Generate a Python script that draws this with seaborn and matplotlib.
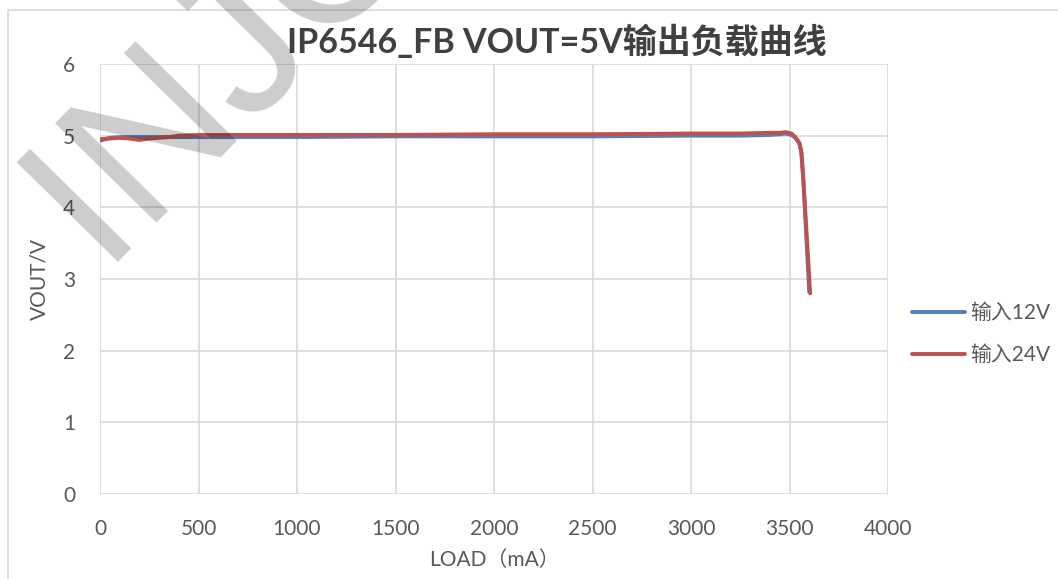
import matplotlib
matplotlib.use("Agg")
import matplotlib.pyplot as plt
import matplotlib.patches as mpatches
import seaborn as sns
import pandas as pd

# ---- data ----
load_12v = [0, 50, 100, 250, 500, 750, 1000, 1500, 2000, 2500, 3000, 3250, 3400, 3450, 3480, 3510, 3530, 3550, 3560, 3570, 3600]
vout_12v = [4.93, 4.97, 4.98, 4.98, 4.98, 4.98, 4.98, 4.99, 4.99, 4.99, 5.00, 5.00, 5.01, 5.02, 5.03, 5.01, 4.97, 4.89, 4.77, 4.40, 2.82]

load_24v = [0, 50, 100, 150, 200, 250, 300, 350, 400, 500, 750, 1000, 1500, 2000, 2500, 3000, 3250, 3400, 3450, 3480, 3510, 3530, 3550, 3560, 3570, 3605]
vout_24v = [4.95, 4.96, 4.97, 4.96, 4.94, 4.96, 4.97, 4.98, 5.00, 5.01, 5.01, 5.01, 5.01, 5.02, 5.02, 5.03, 5.03, 5.04, 5.04, 5.05, 5.03, 4.98, 4.90, 4.78, 4.40, 2.80]

series_names = ["输入12V", "输入24V"]
series_colors = ["#4F81BD", "#C0504D"]

x_ticks = [0, 500, 1000, 1500, 2000, 2500, 3000, 3500, 4000]
y_ticks = [0, 1, 2, 3, 4, 5, 6]

title_text = "IP6546_FB VOUT=5V输出负载曲线"
xlabel_text = "LOAD（mA）"
ylabel_text = "VOUT/V"
watermark_text = "INJOINIC"

df = pd.concat([
    pd.DataFrame({"LOAD": load_12v, "VOUT": vout_12v, "series": series_names[0]}),
    pd.DataFrame({"LOAD": load_24v, "VOUT": vout_24v, "series": series_names[1]}),
], ignore_index=True)

sns.set_theme(style="white")
plt.rcParams["font.family"] = ["Lato", "Noto Sans CJK SC", "DejaVu Sans"]

TXT = "#595959"
GRID = "#D9D9D9"

fig = plt.figure(figsize=(10.58, 5.79), dpi=100)
ax = fig.add_axes([100 / 1058, 1 - 494 / 579, 788 / 1058, 430 / 579])

sns.lineplot(data=df, x="LOAD", y="VOUT", hue="series", palette=series_colors,
             hue_order=series_names, linewidth=2.8, sort=False, estimator=None, ax=ax)

ax.set_xlim(0, 4000)
ax.set_ylim(0, 6)
ax.set_xticks(x_ticks)
ax.set_yticks(y_ticks)
ax.grid(True, color=GRID, linewidth=1.2)
ax.set_axisbelow(True)
for s in ax.spines.values():
    s.set_visible(False)
ax.tick_params(axis="both", length=0, labelsize=15, labelcolor=TXT)
ax.tick_params(axis="x", pad=18)
ax.tick_params(axis="y", pad=18)
ax.set_xlabel(xlabel_text, fontsize=15, color=TXT, labelpad=8)
ax.set_ylabel(ylabel_text, fontsize=15, color=TXT, labelpad=10)

fig.text(557 / 1058, 1 - 42 / 579, title_text, ha="center", va="center",
         fontsize=24.5, fontweight="bold", color="#404040")

leg = ax.legend(loc="center left", bbox_to_anchor=(1 + 24 / 788, (494 - 334) / 430), frameon=False,
                fontsize=15, handlelength=2.55, labelspacing=1.05, handletextpad=0.25,
                borderpad=0, borderaxespad=0)
for t in leg.get_texts():
    t.set_color(TXT)

# outer chart border
fig.patches.append(mpatches.Rectangle((8 / 1058, -0.05), 1.1, 1 - 10 / 579 + 0.05,
                                      transform=fig.transFigure, fill=False,
                                      edgecolor=GRID, linewidth=1.2))

# watermark
fig.text(100 / 1058, 1 - 262 / 579, watermark_text, rotation=45.5, rotation_mode="anchor",
         ha="left", va="baseline", fontsize=148, color="black", alpha=0.2,
         family="Liberation Sans", zorder=10)

fig.savefig("out.png", dpi=100)
